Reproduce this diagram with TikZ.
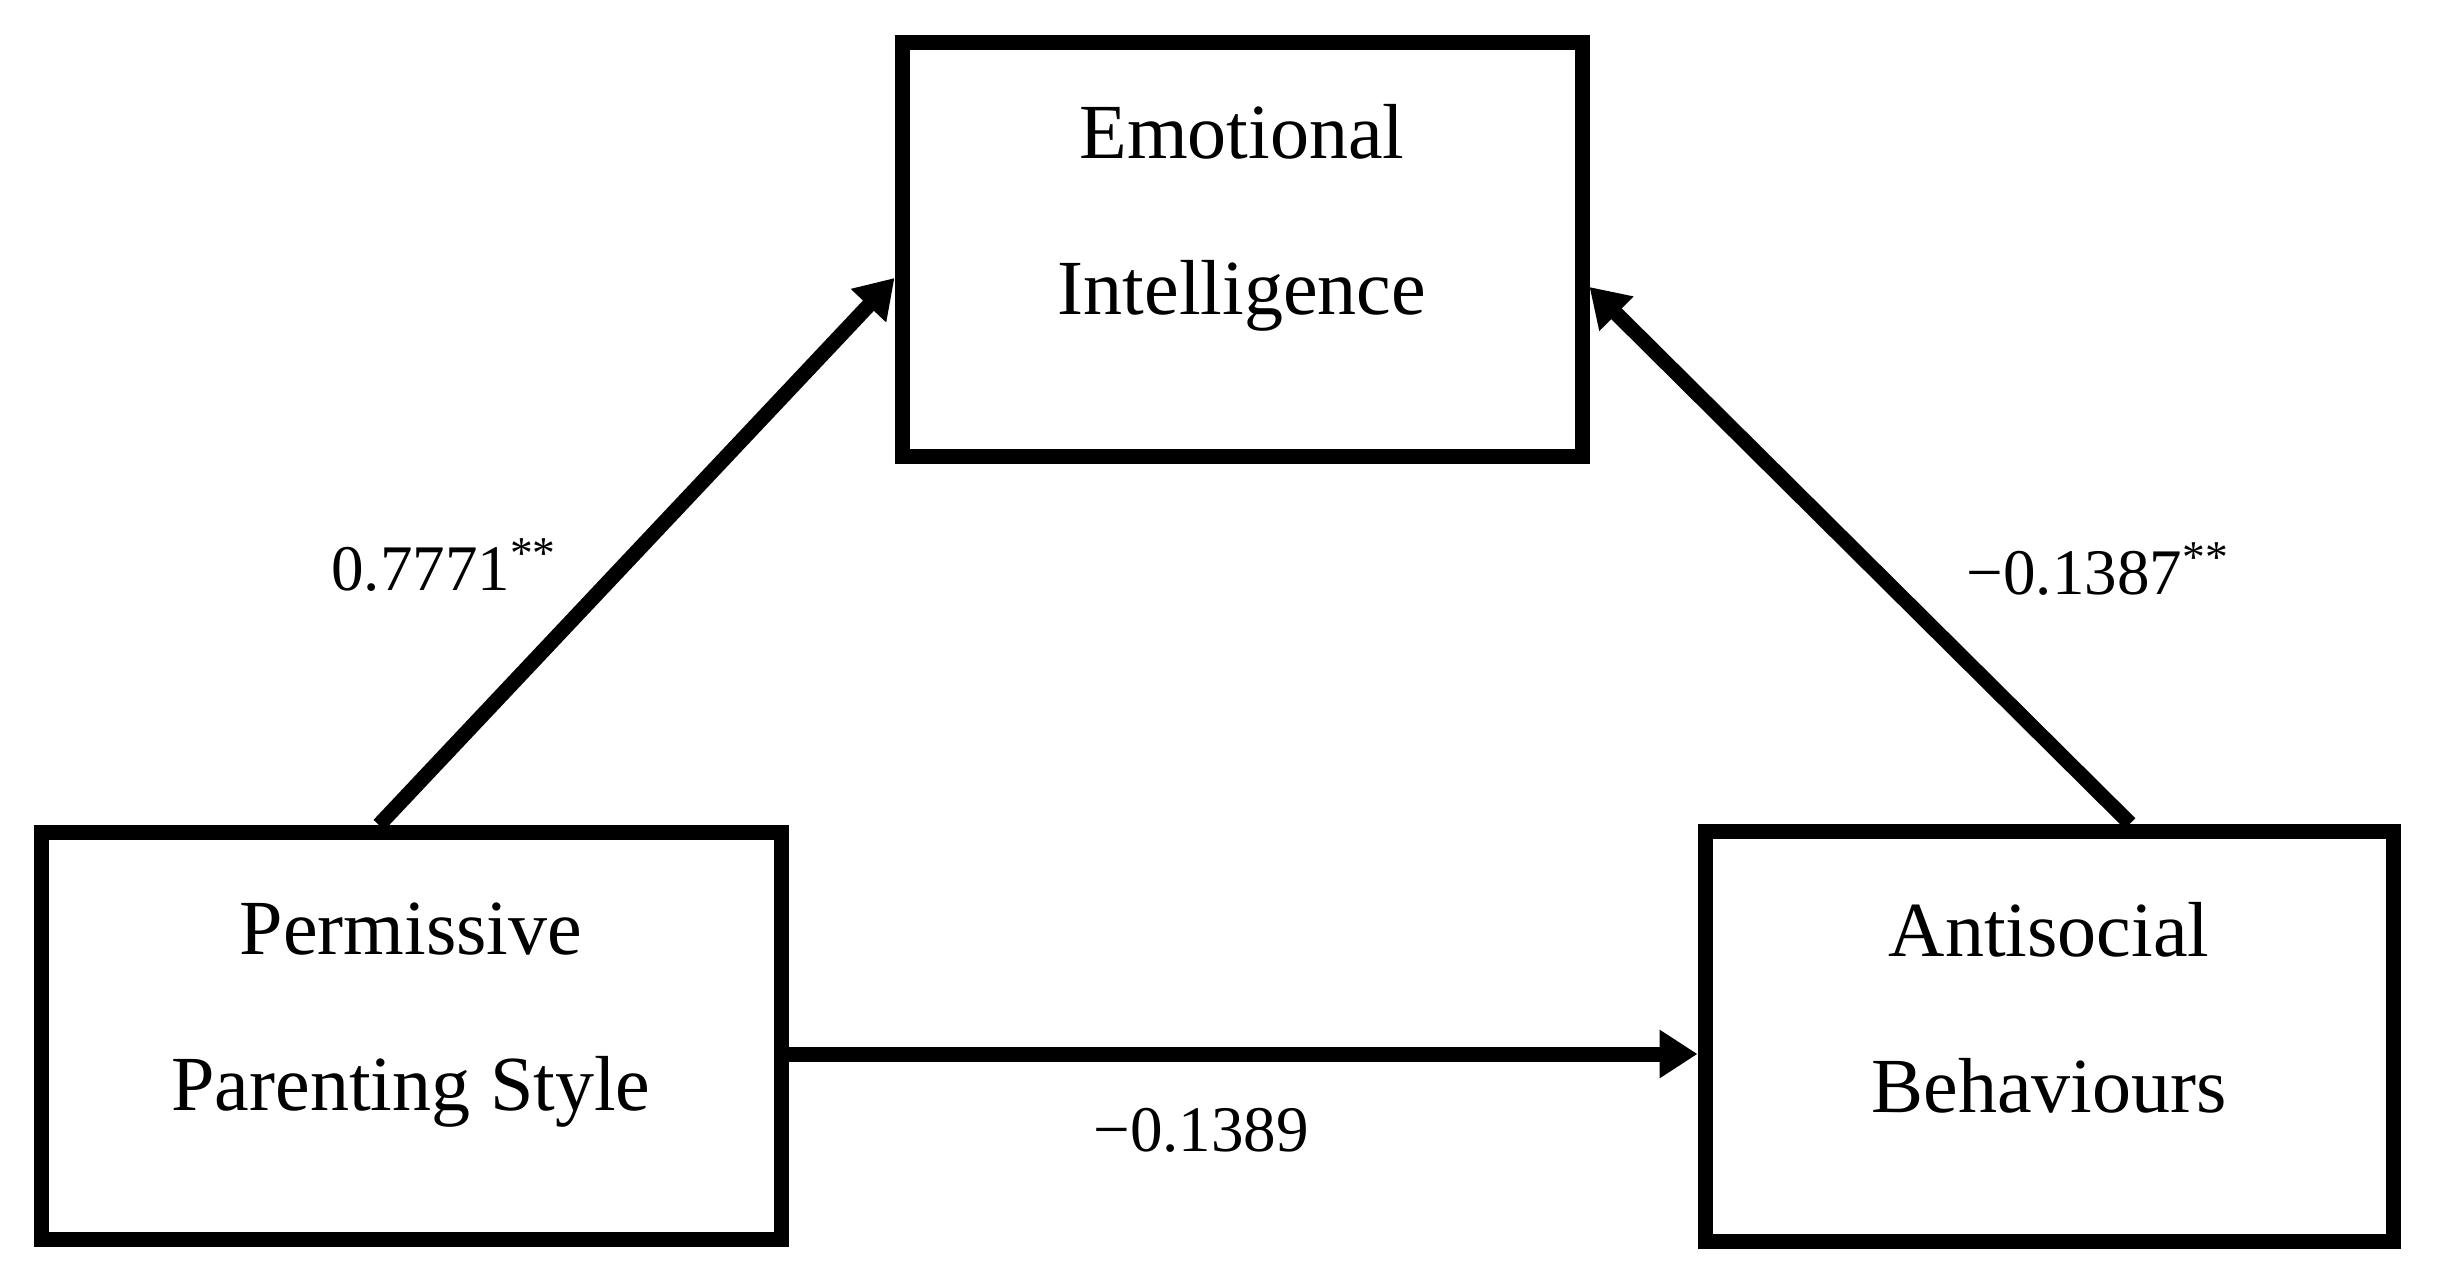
\documentclass[tikz,border=0pt]{standalone}
\usepackage{fontspec}
\setmainfont{Liberation Serif}
\usetikzlibrary{arrows.meta}
\usetikzlibrary{positioning}
\newcommand{\lowpad}[1]{\rule[-#1]{0pt}{#1}}
\tikzset{
	varbox/.style={draw, line width=0.15cm, align=center, inner sep=0pt, font=\fontsize{22.2}{44.4}\selectfont},
	effect/.style={line width=0.15cm, -{Triangle[length=0.38cm,width=0.46cm]}},
	coef/.style={inner sep=0pt, font=\fontsize{18.5}{22}\selectfont}
}
\begin{document}
\begin{tikzpicture}
	\useasboundingbox (0,0) rectangle (24.4,12.84);

	\node[varbox, minimum width=6.80cm, minimum height=4.14cm] (emo) at (12.42,10.34) {Emotional\\Intelligence\lowpad{0.81cm}};
	\node[varbox, minimum width=7.40cm, minimum height=4.07cm] (perm) at (4.11,2.48) {Permissive\\Parenting Style\lowpad{0.59cm}};
	\node[varbox, minimum width=6.88cm, minimum height=4.10cm] (anti) at (20.49,2.48) {Antisocial\\Behaviours\lowpad{0.58cm}};

	\draw[effect] ([xshift=-0.32cm]perm.north) -- ([yshift=-0.28cm]emo.west) node[coef, pos=.475, left=0.59cm] {0.7771\textsuperscript{**}};
	\draw[effect] ([xshift=0.81cm]anti.north) -- ([yshift=-0.37cm]emo.east) node[coef, pos=.475, right=0.86cm] {−0.1387\textsuperscript{**}};
	\draw[effect] ([yshift=-0.18cm]perm.east) -- ([yshift=-0.18cm]anti.west) node[coef, pos=.454, below=0.47cm] {−0.1389};
\end{tikzpicture}
\end{document}
